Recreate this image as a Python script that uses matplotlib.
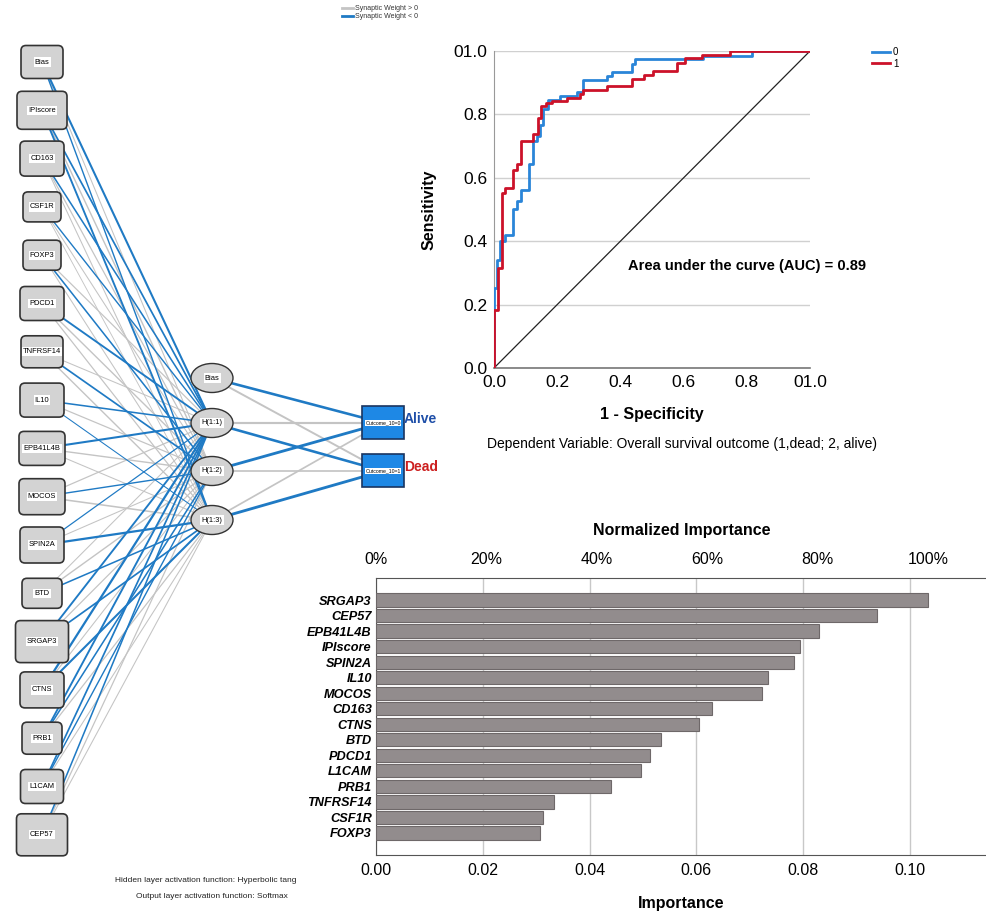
import matplotlib
matplotlib.use("Agg")
import matplotlib.pyplot as plt
from matplotlib.patches import FancyBboxPatch, Ellipse, Rectangle
import numpy as np

plt.rcParams['font.family'] = ['Liberation Sans', 'DejaVu Sans']

# ---------------- data ----------------
input_nodes = ["Bias", "IPIscore", "CD163", "CSF1R", "FOXP3", "PDCD1", "TNFRSF14", "IL10",
               "EPB41L4B", "MOCOS", "SPIN2A", "BTD", "SRGAP3", "CTNS", "PRB1", "L1CAM", "CEP57"]
hidden_nodes = ["Bias", "H(1:1)", "H(1:2)", "H(1:3)"]
output_nodes = ["Outcome_10=0", "Outcome_10=1"]
output_names = ["Alive", "Dead"]

# estimated synaptic weights input -> H(1:1..3)
w_in = [
    [-0.9, 0.3, -0.5], [-0.7, 0.5, -0.8], [-0.6, 0.4, 0.3], [-0.5, 0.3, 0.2],
    [0.4, -0.6, 0.3], [-0.8, 0.5, 0.4], [0.3, -0.7, 0.5], [-0.6, 0.4, -0.3],
    [-0.9, 0.5, 0.3], [0.4, -0.5, 0.6], [-0.4, 0.3, -1.0], [0.3, 0.5, -0.6],
    [-0.8, 0.4, -0.7], [-1.0, 0.3, -0.9], [-0.8, -0.6, 0.4], [-0.7, -0.5, 0.3],
    [-0.6, 0.4, 0.3],
]
# hidden (Bias, H1, H2, H3) -> outputs
w_out = [[-0.8, 0.5], [0.6, -0.8], [-0.9, 0.4], [0.4, -0.9]]

roc_red_x = [0, 0, 0.014, 0.026, 0.035, 0.061, 0.072, 0.084, 0.124, 0.140, 0.150, 0.165, 0.182,
             0.23, 0.272, 0.283, 0.357, 0.436, 0.475, 0.504, 0.578, 0.604, 0.657, 0.747, 1.0]
roc_red_y = [0, 0.184, 0.316, 0.553, 0.568, 0.626, 0.642, 0.716, 0.737, 0.789, 0.826, 0.836, 0.842,
             0.853, 0.863, 0.876, 0.889, 0.911, 0.924, 0.938, 0.963, 0.977, 0.987, 1.0, 1.0]
roc_blue_x = [0, 0, 0.008, 0.019, 0.035, 0.061, 0.072, 0.084, 0.112, 0.122, 0.135, 0.146, 0.156,
              0.172, 0.209, 0.262, 0.283, 0.357, 0.372, 0.436, 0.446, 0.66, 0.816, 1.0]
roc_blue_y = [0, 0.253, 0.342, 0.40, 0.42, 0.50, 0.526, 0.563, 0.642, 0.716, 0.732, 0.768, 0.816,
              0.844, 0.858, 0.872, 0.907, 0.921, 0.935, 0.96, 0.974, 0.985, 1.0, 1.0]

imp_names = ["SRGAP3", "CEP57", "EPB41L4B", "IPIscore", "SPIN2A", "IL10", "MOCOS", "CD163",
             "CTNS", "BTD", "PDCD1", "L1CAM", "PRB1", "TNFRSF14", "CSF1R", "FOXP3"]
imp_values = [0.1034, 0.0939, 0.0830, 0.0794, 0.0782, 0.0735, 0.0722, 0.0629,
              0.0604, 0.0534, 0.0514, 0.0496, 0.0440, 0.0334, 0.0313, 0.0307]

W, H = 987, 913
fig = plt.figure(figsize=(W / 100, H / 100), dpi=100)
fig.patch.set_facecolor('white')

# ---------------- network (pixel coordinates) ----------------
net = fig.add_axes([0, 0, 1, 1])
net.set_xlim(0, W)
net.set_ylim(H, 0)
net.axis('off')

GRAY = '#c4c4c4'
BLUE = '#1f7ac4'

in_x = 42
in_y = [62 + i * 48.3 for i in range(len(input_nodes))]
in_size = [(42, 33), (50, 38), (44, 35), (38, 30), (38, 30), (44, 34), (42, 32), (44, 34),
           (46, 34), (46, 36), (44, 36), (40, 30), (53, 42), (44, 36), (40, 32), (43, 34), (51, 42)]
hid_x = 212
hid_y = [378, 423, 471, 520]
out_x = 383
out_y = [423, 471]

for i, yi in enumerate(in_y):
    for j in range(3):
        w = w_in[i][j]
        net.plot([in_x, hid_x], [yi, hid_y[j + 1]], color=BLUE if w < 0 else GRAY,
                 lw=0.4 + 1.2 * abs(w), zorder=1 + (w < 0))
for j in range(4):
    for k in range(2):
        w = w_out[j][k]
        net.plot([hid_x, out_x], [hid_y[j], out_y[k]], color=BLUE if w < 0 else GRAY,
                 lw=0.6 + 1.6 * abs(w), zorder=1 + (w < 0))

for name, yi, (bw, bh) in zip(input_nodes, in_y, in_size):
    p = FancyBboxPatch((in_x - bw / 2, yi - bh / 2), bw, bh,
                       boxstyle="round,pad=0,rounding_size=5",
                       fc='#d3d3d3', ec='#333333', lw=1.2, zorder=5)
    net.add_patch(p)
    net.text(in_x, yi, name, fontsize=5.4, ha='center', va='center', zorder=6,
             bbox=dict(boxstyle='square,pad=0.15', fc='white', ec='none'))

for name, yi in zip(hidden_nodes, hid_y):
    net.add_patch(Ellipse((hid_x, yi), 42, 29, fc='#d3d3d3', ec='#333333', lw=1.0, zorder=5))
    net.text(hid_x, yi, name, fontsize=5.4, ha='center', va='center', zorder=6,
             bbox=dict(boxstyle='square,pad=0.15', fc='white', ec='none'))

for name, lab, yi, col in zip(output_nodes, output_names, out_y, ['#1f4fa8', '#cc1f1f']):
    net.add_patch(Rectangle((out_x - 21, yi - 16.5), 42, 33, fc='#1e88e5', ec='#1a3560',
                            lw=1.2, zorder=5))
    net.text(out_x, yi, name, fontsize=3.7, ha='center', va='center', zorder=6,
             bbox=dict(boxstyle='square,pad=0.1', fc='white', ec='none'))
    net.text(out_x + 21, yi - 4, lab, fontsize=10, fontweight='bold', color=col,
             ha='left', va='center', zorder=6)

# legend of the network
net.plot([342, 353], [8, 8], color=GRAY, lw=2)
net.plot([342, 353], [16, 16], color=BLUE, lw=2)
net.text(355, 8, "Synaptic Weight > 0", fontsize=5.0, va='center', color='#333333')
net.text(355, 16, "Synaptic Weight < 0", fontsize=5.0, va='center', color='#333333')

net.text(115, 880, "Hidden layer activation function: Hyperbolic tang", fontsize=6.0,
         va='center', color='#222222')
net.text(136, 897, "Output layer activation function: Softmax", fontsize=6.0,
         va='center', color='#222222')

# ---------------- ROC ----------------
roc = fig.add_axes([494 / W, 1 - 368 / H, 316 / W, 317 / H])
roc.set_xlim(0, 1)
roc.set_ylim(0, 1)
roc.plot([0, 1], [0, 1], color='#222222', lw=0.9, zorder=2)
roc.plot(roc_blue_x, roc_blue_y, drawstyle='steps-post', color='#2a85d8', lw=2.0, label='0', zorder=3)
roc.plot(roc_red_x, roc_red_y, drawstyle='steps-post', color='#cc1229', lw=2.0, label='1', zorder=4)
ticks = [0, 0.2, 0.4, 0.6, 0.8, 1.0]
tlabels = ["0.0", "0.2", "0.4", "0.6", "0.8", "01.0"]
roc.set_xticks(ticks)
roc.set_xticklabels(tlabels)
roc.set_yticks(ticks)
roc.set_yticklabels(tlabels)
roc.tick_params(length=0, labelsize=12.5, pad=5)
roc.yaxis.grid(True, color='#d0d0d0', lw=1)
roc.set_axisbelow(True)
for s in ['top', 'right']:
    roc.spines[s].set_visible(False)
roc.spines['left'].set_color('#999999')
roc.spines['bottom'].set_color('#777777')
roc.spines['bottom'].set_linewidth(1.2)
roc.set_xlabel("1 - Specificity", fontsize=11.5, fontweight='bold', labelpad=12)
roc.set_ylabel("Sensitivity", fontsize=11.5, fontweight='bold', labelpad=12)
roc.text(628 / W, 1 - 266 / H, "Area under the curve (AUC) = 0.89", transform=fig.transFigure,
         fontsize=10.5, fontweight='bold', va='center', ha='left')
fig.text(487 / W, 1 - 444 / H, "Dependent Variable: Overall survival outcome (1,dead; 2, alive)",
         fontsize=10, va='center', ha='left')
roc.legend(loc='upper left', bbox_to_anchor=(1.17, 1.04), frameon=False, fontsize=7,
           handlelength=1.8, handletextpad=0.3, labelspacing=0.15)

# ---------------- importance bars ----------------
bar = fig.add_axes([376 / W, 1 - 855 / H, 611 / W, 277 / H])
ypos = np.arange(len(imp_names))
bar.barh(ypos, imp_values, height=0.85, color='#928c8d', edgecolor='#6e6869', lw=0.8, zorder=3)
bar.set_xlim(0, 611 / 5340)
bar.set_ylim(15 + 22 / 15.53, -22 / 15.53)
bar.set_yticks(ypos)
bar.set_yticklabels(imp_names, fontsize=9.2, fontweight='bold', style='italic')
xt = [0, 0.02, 0.04, 0.06, 0.08, 0.10]
bar.set_xticks(xt)
bar.set_xticklabels(["0.00", "0.02", "0.04", "0.06", "0.08", "0.10"])
bar.tick_params(axis='x', length=0, labelsize=11.5, pad=6)
bar.tick_params(axis='y', length=0, pad=3)
bar.xaxis.grid(True, color='#c8c8c8', lw=1)
bar.set_axisbelow(True)
bar.spines['right'].set_visible(False)
for s in ['top', 'bottom', 'left']:
    bar.spines[s].set_color('#555555')
bar.set_xlabel("Importance", fontsize=11.5, fontweight='bold', labelpad=13)

top = bar.secondary_xaxis('top', functions=(lambda v: v / max(imp_values) * 100,
                                            lambda p: p * max(imp_values) / 100))
top.set_xticks([0, 20, 40, 60, 80, 100])
top.set_xticklabels(["0%", "20%", "40%", "60%", "80%", "100%"])
top.tick_params(length=0, labelsize=11.5, pad=8)
top.spines['top'].set_visible(False)
top.set_xlabel("Normalized Importance", fontsize=11.5, fontweight='bold', labelpad=12)

fig.savefig("out.png", dpi=100, facecolor='white')
